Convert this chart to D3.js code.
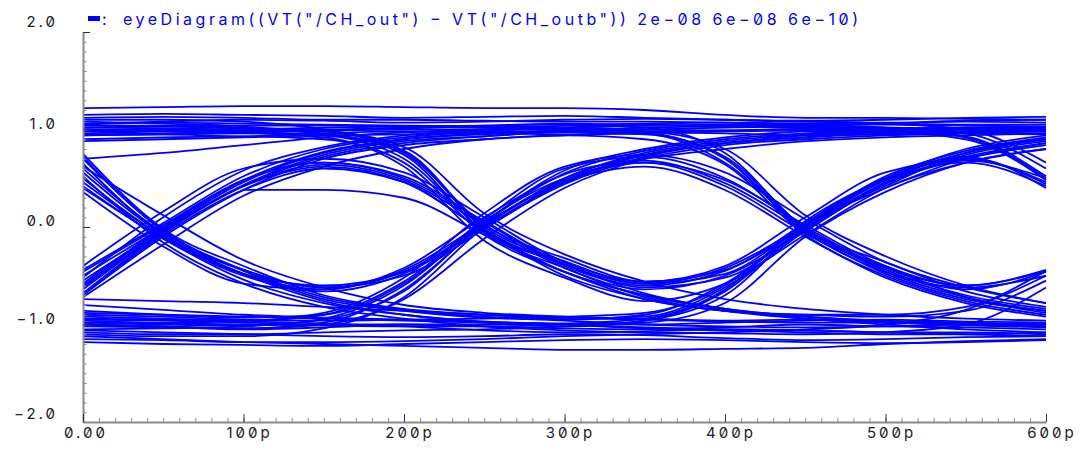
<!DOCTYPE html>
<html>
<head>
<meta charset="utf-8">
<script src="https://cdn.jsdelivr.net/npm/d3@7"></script>
<style>
  body { margin: 0; background: #fff; }
  svg text {
    font-family: Inter, "DejaVu Sans", sans-serif;
    font-feature-settings: "zero" 1;
    font-variant-numeric: slashed-zero;
  }
</style>
</head>
<body>
<svg width="1081" height="462"></svg>
<script>
// sample times of every trace (ps)
const times = [0, 50, 100, 150, 200, 250, 300, 350, 400, 450, 500, 550, 600];

// eye diagram traces, volts read at the times above
const traces = [
  [1.02, 1.03, 1.01, 1.00, 1.02, 1.03, 1.02, 1.00, 0.99, 1.01, 1.02, 1.00, 0.98],
  [1.22, 1.23, 1.24, 1.24, 1.23, 1.22, 1.22, 1.20, 1.15, 1.12, 1.12, 1.11, 1.10],
  [-1.00, -1.02, -1.05, -1.03, -1.00, -1.02, -1.04, -1.05, -1.03, -1.00, -1.02, -1.03, -1.05],
  [-1.12, -1.15, -1.18, -1.20, -1.22, -1.24, -1.26, -1.26, -1.25, -1.24, -1.20, -1.17, -1.15],
  [-0.68, -0.06, 0.42, 0.72, 0.86, 0.93, 0.98, 1.00, 1.02, 1.03, 1.02, 1.01, 1.00],
  [-0.60, -0.02, 0.46, 0.76, 0.90, 0.96, 0.99, 1.02, 1.03, 1.02, 1.00, 0.92, 0.50],
  [-0.70, -0.08, 0.38, 0.60, 0.46, -0.04, -0.46, -0.70, -0.84, -0.92, -0.97, -1.00, -1.02],
  [-0.55, -0.03, 0.42, 0.64, 0.48, 0.02, -0.42, -0.64, -0.50, -0.04, 0.45, 0.70, 0.84],
  [-0.46, 0.02, 0.48, 0.66, 0.50, 0.05, -0.40, -0.60, -0.45, 0.00, 0.48, 0.66, 0.42],
  [-0.64, -0.05, 0.43, 0.74, 0.88, 0.93, 0.97, 0.95, 0.72, -0.02, -0.44, -0.70, -0.84],
  [-0.58, 0.00, 0.48, 0.77, 0.90, 0.95, 0.98, 0.96, 0.70, -0.04, -0.46, -0.62, -0.50],
  [0.72, -0.04, -0.44, -0.72, -0.85, -0.92, -0.96, -1.00, -1.02, -1.03, -1.02, -1.00, -1.01],
  [0.65, -0.08, -0.44, -0.62, -0.46, 0.02, 0.50, 0.76, 0.88, 0.95, 0.98, 1.00, 1.01],
  [0.50, -0.10, -0.48, -0.64, -0.44, 0.04, 0.48, 0.68, 0.45, -0.02, -0.46, -0.72, -0.86],
  [0.75, -0.02, -0.40, -0.70, -0.84, -0.90, -0.94, -0.92, -0.62, -0.04, 0.44, 0.74, 0.88],
  [0.60, -0.06, -0.45, -0.74, -0.86, -0.93, -0.95, -0.90, -0.58, 0.00, 0.48, 0.70, 0.44],
  [0.42, -0.12, -0.50, -0.66, -0.48, 0.00, 0.44, 0.72, 0.86, 0.92, 0.97, 0.90, 0.48],
  [1.00, 1.01, 1.00, 0.96, 0.74, -0.06, -0.42, -0.72, -0.86, -0.94, -0.98, -1.01, -1.03],
  [0.98, 0.99, 0.97, 0.94, 0.70, -0.04, -0.38, -0.62, -0.52, -0.02, 0.46, 0.72, 0.86],
  [1.08, 1.06, 1.03, 0.95, 0.78, 0.00, -0.35, -0.58, -0.48, 0.03, 0.50, 0.70, 0.46],
  [1.05, 1.07, 1.06, 1.05, 1.04, 1.03, 1.01, 0.97, 0.70, -0.06, -0.40, -0.72, -0.88],
  [0.95, 0.96, 0.98, 0.99, 1.00, 1.00, 0.99, 0.96, 0.66, -0.02, -0.42, -0.64, -0.46],
  [0.90, 0.92, 0.93, 0.90, 0.66, -0.08, -0.46, -0.74, -0.86, -0.90, -0.92, -0.86, -0.55],
  [1.12, 1.13, 1.12, 1.10, 1.10, 1.09, 1.08, 1.08, 1.07, 1.05, 1.02, 0.96, 0.60],
  [-0.98, -1.00, -1.01, -0.95, -0.66, 0.04, 0.55, 0.78, 0.90, 0.96, 1.00, 1.02, 1.02],
  [-1.05, -1.04, -1.02, -0.94, -0.60, 0.06, 0.50, 0.66, 0.42, -0.06, -0.48, -0.74, -0.86],
  [-0.92, -0.94, -0.96, -0.90, -0.56, 0.08, 0.60, 0.72, 0.50, 0.00, -0.42, -0.60, -0.44],
  [-1.08, -1.10, -1.10, -1.08, -1.06, -1.05, -1.02, -0.96, -0.70, 0.02, 0.42, 0.76, 0.90],
  [-0.90, -0.92, -0.95, -0.96, -0.95, -0.94, -0.92, -0.88, -0.60, 0.04, 0.50, 0.72, 0.40],
  [-0.86, -0.90, -0.93, -0.90, -0.58, 0.05, 0.58, 0.80, 0.92, 0.98, 1.00, 0.93, 0.52],
  [-1.15, -1.16, -1.18, -1.18, -1.17, -1.15, -1.12, -1.10, -1.08, -1.05, -1.00, -0.85, -0.45],
  [0.88, 0.90, 0.92, 0.94, 0.95, 0.97, 0.98, 0.98, 0.99, 1.00, 1.00, 1.02, 1.03],
  [-0.80, -0.85, -0.90, -0.93, -0.95, -0.97, -1.00, -1.03, -1.05, -1.06, -1.08, -1.08, -1.10],
  [0.70, 0.76, 0.84, 0.92, 0.97, 1.00, 1.02, 1.04, 1.04, 1.05, 1.06, 1.05, 1.05],
  [-0.74, -0.76, -0.78, -0.82, -0.86, -0.90, -0.93, -0.95, -0.97, -0.98, -0.98, -0.99, -1.00],
  [null, null, 0.38, 0.38, 0.30, -0.08, -0.46, -0.70, -0.84, -0.92, -0.96, -0.98, -1.00],
  [-0.44, 0.04, 0.52, 0.80, 0.92, 0.98, 1.02, 1.04, 1.05, 1.06, 1.05, 1.04, 1.03],
  [0.40, -0.12, -0.54, -0.78, -0.90, -0.97, -1.00, -1.04, -1.06, -1.08, -1.10, -1.10, -1.08],
  [1.10, 1.10, 1.08, 1.00, 0.78, -0.02, -0.38, -0.68, -0.84, -0.94, -1.00, -1.05, -1.08],
  [-1.10, -1.12, -1.12, -1.04, -0.72, 0.00, 0.50, 0.74, 0.86, 0.94, 0.98, 1.00, 1.00],
  [0.96, 0.98, 1.00, 1.02, 1.03, 1.04, 1.05, 1.02, 0.76, -0.02, -0.36, -0.66, -0.82],
  [-0.95, -0.96, -0.98, -1.00, -1.00, -1.00, -0.99, -0.94, -0.64, 0.06, 0.50, 0.80, 0.94],
  [-0.62, -0.04, 0.42, 0.62, 0.46, -0.04, -0.50, -0.74, -0.86, -0.90, -0.90, -0.82, -0.50],
  [0.70, -0.04, -0.44, -0.62, -0.50, -0.02, 0.46, 0.74, 0.86, 0.92, 0.96, 0.98, 0.98],
  [-0.70, -0.10, 0.38, 0.70, 0.84, 0.90, 0.94, 0.90, 0.64, -0.08, -0.50, -0.76, -0.90],
  [0.56, -0.08, -0.48, -0.76, -0.90, -0.98, -1.02, -0.96, -0.66, 0.00, 0.40, 0.70, 0.86],
  [-1.00, -1.02, -1.04, -0.98, -0.64, 0.02, 0.46, 0.62, 0.38, -0.10, -0.52, -0.78, -0.92],
  [1.04, 1.04, 1.02, 0.98, 0.76, 0.02, -0.32, -0.56, -0.44, 0.04, 0.52, 0.78, 0.92],
  [0.46, -0.10, -0.48, -0.60, -0.46, 0.00, 0.46, 0.66, 0.48, 0.02, -0.40, -0.60, -0.45],
  [-0.50, 0.00, 0.48, 0.66, 0.52, 0.06, -0.38, -0.58, -0.42, 0.02, 0.50, 0.76, 0.90],
  [1.06, 1.08, 1.10, 1.09, 1.07, 1.08, 1.10, 1.11, 1.10, 1.08, 1.07, 1.09, 1.10],
  [0.94, 0.95, 0.93, 0.96, 0.98, 0.97, 0.95, 0.96, 0.98, 0.99, 0.97, 0.96, 0.95],
  [1.00, 0.98, 0.97, 0.99, 1.01, 1.04, 1.06, 1.05, 1.03, 1.04, 1.06, 1.08, 1.07],
  [1.15, 1.16, 1.15, 1.14, 1.12, 1.13, 1.14, 1.12, 1.10, 1.09, 1.10, 1.12, 1.13],
  [-0.52, 0.10, 0.58, 0.82, 0.94, 1.00, 1.04, 1.06, 1.07, 1.08, 1.06, 1.00, 0.66],
  [-0.96, -0.98, -0.97, -0.99, -1.02, -1.06, -1.08, -1.07, -1.05, -1.06, -1.08, -1.10, -1.12],
  [-1.06, -1.08, -1.10, -1.12, -1.13, -1.12, -1.10, -1.11, -1.14, -1.16, -1.15, -1.13, -1.12],
  [-0.88, -0.90, -0.92, -0.94, -0.96, -0.98, -0.99, -1.00, -0.98, -0.96, -0.95, -0.97, -0.98],
  [-1.18, -1.20, -1.21, -1.22, -1.20, -1.18, -1.16, -1.15, -1.16, -1.18, -1.19, -1.18, -1.16],
  [0.52, -0.16, -0.58, -0.82, -0.94, -1.02, -1.06, -1.08, -1.09, -1.10, -1.08, -1.00, -0.62],
  [-0.72, -0.18, 0.32, 0.62, 0.80, 0.90, 0.94, 0.97, 0.96, 0.94, 0.95, 0.97, 0.98],
  [0.62, 0.12, -0.34, -0.62, -0.80, -0.88, -0.92, -0.94, -0.96, -0.95, -0.97, -0.99, -1.00],
  [0.98, 1.00, 0.99, 0.98, 0.82, 0.14, -0.28, -0.56, -0.74, -0.84, -0.90, -0.94, -0.96],
  [-1.02, -1.03, -1.04, -1.00, -0.74, -0.12, 0.40, 0.70, 0.84, 0.90, 0.94, 0.96, 0.98],
  [1.02, 1.03, 1.04, 1.04, 1.03, 1.02, 1.00, 0.98, 0.80, 0.12, -0.30, -0.60, -0.78],
  [-0.98, -0.99, -1.00, -1.01, -1.02, -1.02, -1.00, -0.98, -0.78, -0.10, 0.36, 0.66, 0.80],
  [-0.40, 0.16, 0.60, 0.70, 0.56, 0.10, -0.36, -0.56, -0.40, 0.10, 0.56, 0.68, 0.50],
  [0.36, -0.20, -0.58, -0.64, -0.42, 0.10, 0.54, 0.70, 0.80, 0.88, 0.92, 0.94, 0.96],
  [0.94, 0.95, 0.96, 0.92, 0.62, -0.14, -0.52, -0.76, -0.58, -0.08, 0.40, 0.66, 0.80],
  [-0.94, -0.95, -0.96, -0.88, -0.52, 0.14, 0.62, 0.74, 0.56, 0.08, -0.36, -0.62, -0.78]
];

const xTicks = [0, 100, 200, 300, 400, 500, 600];
const xTickLabels = ['0.00', '100p', '200p', '300p', '400p', '500p', '600p'];
const yTicks = [-2, -1, 0, 1, 2];
const yTickLabels = ['−2.0', '−1.0', '0.0', '1.0', '2.0'];
const titleText = 'eyeDiagram((VT("/CH_out") − VT("/CH_outb")) 2e−08 6e−08 6e−10)';

const svg = d3.select('svg');
const margin = {left: 83, top: 32, right: 35, bottom: 40};
const width = +svg.attr('width');
const height = +svg.attr('height');
const innerWidth = width - margin.left - margin.right;
const innerHeight = height - margin.top - margin.bottom;

const xScale = d3.scaleLinear().domain([0, 600]).range([0, innerWidth]);
const yScale = d3.scaleLinear().domain([-2, 2]).range([innerHeight, 0]);

const g = svg.append('g')
  .attr('transform', `translate(${margin.left},${margin.top})`);

g.append('clipPath').attr('id', 'plot-clip')
  .append('rect')
  .attr('x', 1).attr('y', 0)
  .attr('width', innerWidth).attr('height', innerHeight - 1);

const line = d3.line()
  .defined(d => d != null)
  .x((d, i) => xScale(times[i]))
  .y(d => yScale(d))
  .curve(d3.curveMonotoneX);

g.append('g').attr('clip-path', 'url(#plot-clip)')
  .selectAll('path').data(traces)
  .join('path')
  .attr('d', line)
  .attr('fill', 'none')
  .attr('stroke', '#0000ff')
  .attr('stroke-width', 1.8);

// minor ticks, pointing into the plot
g.append('g')
  .call(d3.axisLeft(yScale).tickValues(d3.range(-20, 21).map(d => d / 10)).tickSize(-3.5).tickFormat(''))
  .call(s => { s.select('.domain').remove(); s.selectAll('line').attr('stroke', '#8a8a8a'); });
g.append('g')
  .attr('transform', `translate(0,${innerHeight})`)
  .call(d3.axisBottom(xScale).tickValues(d3.range(0, 601, 10)).tickSize(-4).tickFormat(''))
  .call(s => { s.select('.domain').remove(); s.selectAll('line').attr('stroke', '#8a8a8a'); });

// major ticks and axis lines
const yG = g.append('g')
  .call(d3.axisLeft(yScale).tickValues(yTicks).tickSize(-7).tickSizeOuter(0).tickFormat(''));
yG.select('.domain').attr('stroke', '#8a8a8a').attr('stroke-width', 2);
yG.selectAll('line').attr('stroke', '#333');

const xG = g.append('g')
  .attr('transform', `translate(0,${innerHeight})`)
  .call(d3.axisBottom(xScale).tickValues(xTicks).tickSize(-8).tickSizeOuter(0).tickFormat(''));
xG.select('.domain').attr('stroke', '#8a8a8a').attr('stroke-width', 2);
xG.selectAll('line').attr('stroke', '#333');

// tick labels
g.append('g').selectAll('text').data(yTicks)
  .join('text')
  .attr('x', -25)
  .attr('y', d => yScale(d) + (d === 2 ? -5 : d === -2 ? -3 : -1))
  .attr('text-anchor', 'end')
  .attr('fill', '#222')
  .style('font-size', '15px')
  .style('letter-spacing', '3px')
  .text((d, i) => yTickLabels[i]);

g.append('g').selectAll('text').data(xTicks)
  .join('text')
  .attr('x', d => xScale(d) + (d === 0 ? 3 : 6))
  .attr('y', innerHeight + 16)
  .attr('text-anchor', 'middle')
  .attr('fill', '#222')
  .style('font-size', '15px')
  .style('letter-spacing', '3px')
  .text((d, i) => xTickLabels[i]);

// legend / title line
svg.append('rect')
  .attr('x', 88).attr('y', 16).attr('width', 12).attr('height', 5)
  .attr('fill', '#0000ff');
svg.append('text')
  .attr('x', 102).attr('y', 25)
  .attr('fill', '#0000ff')
  .style('font-size', '16px')
  .text(':');
svg.append('text')
  .attr('x', 123).attr('y', 25)
  .attr('fill', '#0000ff')
  .attr('textLength', 735)
  .attr('lengthAdjust', 'spacing')
  .style('font-size', '16px')
  .text(titleText);
</script>
</body>
</html>
